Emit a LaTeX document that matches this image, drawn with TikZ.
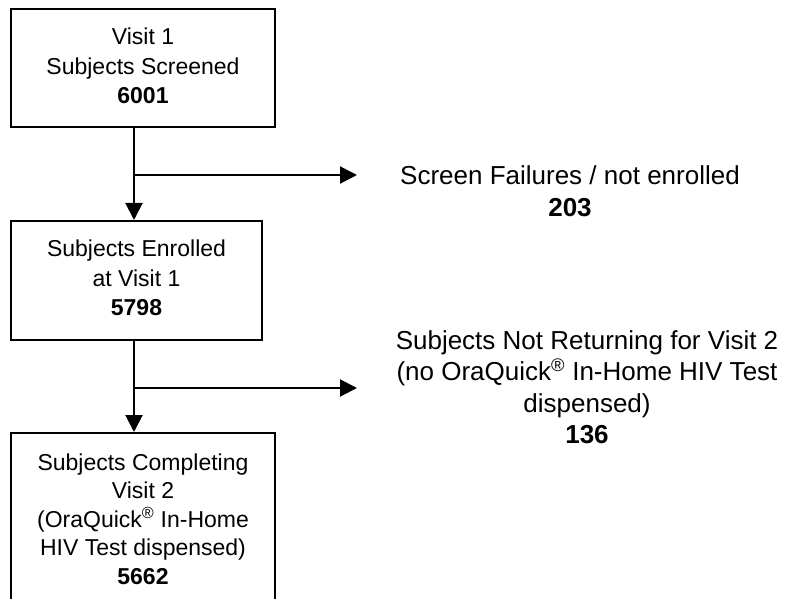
\documentclass[tikz,border=0pt]{standalone}
\usepackage{fontspec}
\setmainfont{Liberation Sans}
\usetikzlibrary{arrows.meta}
\begin{document}
\begin{tikzpicture}[x=1pt,y=-1pt,
  box/.style={draw,line width=2pt,inner sep=0pt},
  arr/.style={line width=2pt,-{Triangle[length=17pt,width=17pt]}},
  conn/.style={line width=2pt},
  boxtext/.style={align=center,inner sep=0pt,font=\fontsize{23}{29.5}\selectfont},
  boxtextb/.style={align=center,inner sep=0pt,font=\fontsize{23}{28.5}\selectfont},
  sidetext/.style={align=center,inner sep=0pt,font=\fontsize{26}{31.5}\selectfont}]
\useasboundingbox (0,0) rectangle (785,599);
\clip (0,0) rectangle (785,599);
\fill[white] (0,0) rectangle (785,599);
% boxes
\node[box,minimum width=264pt,minimum height=118pt] (b1) at (143,68) {};
\node[box,minimum width=251pt,minimum height=119pt] (b2) at (136.5,280.5) {};
\node[box,minimum width=264pt,minimum height=180pt] (b3) at (143,523) {};
% box texts
\node[boxtext] (t1) at (143,66) {Visit 1\\Subjects Screened\\\textbf{6001}};
\node[boxtext] (t2) at (136.5,278) {Subjects Enrolled\\at Visit 1\\\textbf{5798}};
\node[boxtextb] (t3) at (143,519) {Subjects Completing\\Visit 2\\(OraQuick\textsuperscript{®} In-Home\\HIV Test dispensed)\\\textbf{5662}};
% side texts
\node[sidetext] (s1) at (570,191) {Screen Failures / not enrolled\\\textbf{203}};
\node[sidetext] (s2) at (587,387) {Subjects Not Returning for Visit 2\\(no OraQuick\textsuperscript{®} In-Home HIV Test\\dispensed)\\\textbf{136}};
% junctions and ends
\coordinate (j1) at (134,175);
\coordinate (e1) at (357,175);
\coordinate (j2) at (134,388);
\coordinate (e2) at (357,388);
% connectors
\draw[arr] (b1.south -| j1) -- (b2.north -| j1);
\draw[arr] (j1) -- (e1);
\draw[arr] (b2.south -| j2) -- (b3.north -| j2);
\draw[arr] (j2) -- (e2);
\end{tikzpicture}
\end{document}
